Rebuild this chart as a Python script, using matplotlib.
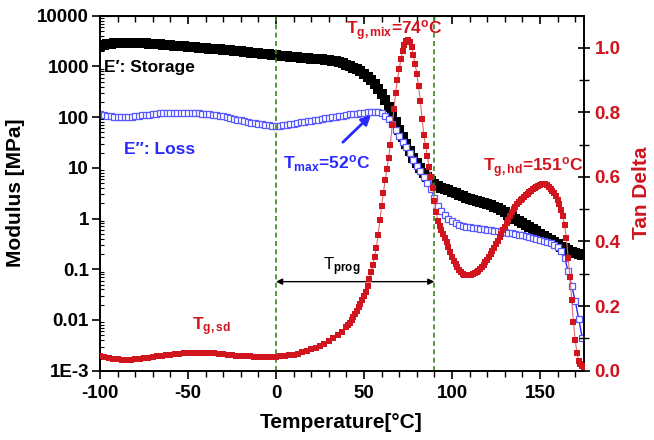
import numpy as np
import matplotlib
matplotlib.use("Agg")
import matplotlib.pyplot as plt
from matplotlib.ticker import FixedLocator, FixedFormatter, LogLocator, NullFormatter, MultipleLocator

plt.rcParams['font.family'] = ['Liberation Sans', 'DejaVu Sans']
plt.rcParams['font.weight'] = 'bold'
plt.rcParams['axes.unicode_minus'] = False
plt.rcParams['mathtext.fontset'] = 'custom'
plt.rcParams['mathtext.rm'] = 'Liberation Sans'
plt.rcParams['mathtext.bf'] = 'Liberation Sans:bold'
plt.rcParams['mathtext.it'] = 'Liberation Sans:italic'

# ---------------- data ----------------
# Storage modulus E' [MPa], every 2 degC from -100 to 174
temp_storage = np.arange(-100, 175, 2)
storage = [2512, 2630, 2754, 2818, 2884, 2884, 2951, 2951, 2951, 2951,
           2951, 2884, 2884, 2884, 2818, 2818, 2754, 2754, 2692, 2692,
           2630, 2570, 2570, 2512, 2512, 2455, 2399, 2399, 2344, 2344,
           2291, 2239, 2239, 2188, 2188, 2138, 2089, 2089, 2042, 1995,
           1995, 1950, 1905, 1862, 1862, 1820, 1778, 1738, 1738, 1698,
           1660, 1622, 1622, 1585, 1549, 1549, 1514, 1479, 1479, 1445,
           1413, 1413, 1380, 1380, 1349, 1318, 1288, 1259, 1202, 1148,
           1072, 1000, 933, 871, 794, 724, 631, 537, 447, 355,
           282, 214, 155, 112, 79, 56, 41, 29.5, 21.4, 15.8,
           12.3, 9.8, 7.9, 6.6, 5.6, 4.8, 4.3, 4.0, 3.8, 3.6,
           3.4, 3.16, 2.95, 2.75, 2.57, 2.45, 2.34, 2.24, 2.14, 2.04,
           1.91, 1.82, 1.70, 1.58, 1.45, 1.32, 1.20, 1.10, 1.00, 0.91,
           0.83, 0.76, 0.69, 0.62, 0.56, 0.50, 0.457, 0.41, 0.37, 0.34,
           0.31, 0.28, 0.257, 0.24, 0.224, 0.214, 0.204, 0.195]

# Loss modulus E'' [MPa], every 2 degC from -100 to 174
temp_loss = np.arange(-100, 175, 2)
loss = [117, 112, 107, 105, 102, 102, 100, 100, 102, 102,
        105, 107, 110, 110, 112, 115, 117, 120, 120, 123,
        123, 123, 123, 123, 123, 123, 123, 120, 120, 117,
        117, 115, 112, 110, 107, 105, 100, 98, 93, 89,
        87, 83, 81, 78, 76, 74, 72, 71, 69, 68,
        68, 68, 69, 71, 72, 74, 76, 79, 81, 83,
        85, 87, 89, 93, 95, 98, 100, 102, 105, 107,
        112, 115, 115, 117, 120, 123, 126, 129, 129, 126,
        120, 107, 91, 72, 56, 43, 33, 26, 19.5, 14.5,
        11.0, 8.5, 6.6, 5.1, 3.8, 2.6, 1.78, 1.38, 1.15, 1.00,
        0.89, 0.81, 0.76, 0.72, 0.69, 0.68, 0.66, 0.65, 0.63, 0.62,
        0.60, 0.59, 0.575, 0.56, 0.55, 0.54, 0.525, 0.51, 0.49, 0.48,
        0.47, 0.447, 0.437, 0.417, 0.40, 0.38, 0.363, 0.347, 0.324, 0.30,
        0.275, 0.23, 0.166, 0.093, 0.047, 0.024, 0.0105, 0.0045]

# Tan delta
temp_tan = list(np.arange(-100, 40.1, 2.5)) + list(np.arange(41, 176, 1))
tan_delta = [0.045, 0.041, 0.038, 0.036, 0.035, 0.034, 0.034, 0.034, 0.035, 0.036,
             0.038, 0.040, 0.042, 0.044, 0.046, 0.048, 0.050, 0.052, 0.053, 0.054,
             0.055, 0.056, 0.056, 0.056, 0.056, 0.055, 0.054, 0.053, 0.052, 0.050,
             0.049, 0.047, 0.046, 0.045, 0.044, 0.043, 0.043, 0.042, 0.042, 0.042,
             0.043, 0.044, 0.046, 0.048, 0.050, 0.053, 0.057, 0.061, 0.066, 0.071,
             0.077, 0.084, 0.091, 0.100, 0.110, 0.121, 0.134,
             # 41 .. 175 every 1 degC
             0.141, 0.149, 0.157, 0.166, 0.176, 0.186, 0.197, 0.208, 0.219, 0.231,
             0.245, 0.262, 0.283, 0.305, 0.328, 0.353, 0.380, 0.420, 0.465, 0.510,
             0.550, 0.590, 0.625, 0.660, 0.700, 0.760, 0.810, 0.860, 0.900, 0.935,
             0.965, 0.990, 1.008, 1.020, 1.024, 1.018, 1.003, 0.978, 0.950, 0.920,
             0.880, 0.835, 0.780, 0.730, 0.695, 0.665, 0.632, 0.600, 0.565, 0.525,
             0.490, 0.463, 0.447, 0.435, 0.423, 0.410, 0.397, 0.382, 0.367, 0.353,
             0.341, 0.330, 0.320, 0.312, 0.305, 0.300, 0.297, 0.295, 0.295, 0.296,
             0.297, 0.299, 0.302, 0.305, 0.309, 0.314, 0.320, 0.327, 0.335, 0.343,
             0.352, 0.361, 0.371, 0.381, 0.391, 0.402, 0.413, 0.424, 0.435, 0.446,
             0.457, 0.468, 0.479, 0.490, 0.500, 0.508, 0.515, 0.521, 0.527, 0.533,
             0.538, 0.543, 0.548, 0.553, 0.557, 0.561, 0.565, 0.569, 0.572, 0.575,
             0.577, 0.578, 0.577, 0.574, 0.570, 0.564, 0.557, 0.549, 0.540, 0.528,
             0.515, 0.498, 0.478, 0.450, 0.410, 0.350, 0.290, 0.220, 0.150, 0.095,
             0.055, 0.030, 0.020, 0.015, 0.010]

x_major = [-100, -50, 0, 50, 100, 150]
y_left_ticks = [1e-3, 1e-2, 1e-1, 1, 10, 100, 1000, 10000]
y_left_labels = ['1E-3', '0.01', '0.1', '1', '10', '100', '1000', '10000']
y_right_ticks = [0.0, 0.2, 0.4, 0.6, 0.8, 1.0]
y_right_labels = ['0.0', '0.2', '0.4', '0.6', '0.8', '1.0']
t_prog_range = [0, 90]

RED = '#d0151f'
BLUE = '#2a2aff'
GREEN = '#3a8a1a'

# ---------------- figure ----------------
fig = plt.figure(figsize=(6.54, 4.40), dpi=100)
ax = fig.add_axes([100 / 654, 1 - 370.7 / 440, 484 / 654, 355 / 440])
ax.set_yscale('log')
ax.set_xlim(-100, 175)
ax.set_ylim(1e-3, 1e4)

ax.plot(temp_storage, storage, 's', color='black', ms=6.6, mew=0, zorder=2)
ax.plot(temp_loss, loss, '-', color=BLUE, lw=1.0, zorder=3)
ax.plot(temp_loss, loss, 's', mfc='white', mec='#5858ff', ms=5.0, mew=0.9, zorder=3)

# T_prog arrow
ax.annotate('', xy=(t_prog_range[0], 0.057), xytext=(t_prog_range[1], 0.057),
            arrowprops=dict(arrowstyle='<|-|>', color='black', lw=1.0,
                            mutation_scale=9, shrinkA=0, shrinkB=0), zorder=4)
ax.text(26.5, 0.096, r'T$_{\mathrm{prog}}$', fontsize=12, fontweight='normal', color='black')

# Tmax arrow
ax.annotate('', xy=(54, 110), xytext=(38, 32),
            arrowprops=dict(arrowstyle='-|>', color=BLUE, lw=2.0,
                            mutation_scale=14, shrinkA=0, shrinkB=0), zorder=5)

ax.text(-97.5, 790, 'E\u2032: Storage', fontsize=12.5, fontweight='bold', color='black')
ax.text(-86.5, 19, 'E\u2033: Loss', fontsize=12.5, fontweight='bold', color=BLUE)
ax.text(4, 9.6, r'$\mathbf{T_{max}}$=52$^{\mathbf{o}}$C', fontsize=12.5,
        fontweight='bold', color=BLUE)
ax.text(40, 4300, r'$\mathbf{T_{g,mix}}$=74$^{\mathbf{o}}$C', fontsize=12.5,
        fontweight='bold', color=RED, zorder=6)
ax.text(117.5, 8.6, r'$\mathbf{T_{g,hd}}$=151$^{\mathbf{o}}$C', fontsize=12.5,
        fontweight='bold', color=RED)
ax.text(-47.5, 0.0062, r'$\mathbf{T_{g,sd}}$', fontsize=12.5, color=RED)

# left axis ticks
ax.yaxis.set_major_locator(FixedLocator(y_left_ticks))
ax.yaxis.set_major_formatter(FixedFormatter(y_left_labels))
ax.yaxis.set_minor_locator(LogLocator(base=10, subs=np.arange(2, 10), numticks=20))
ax.yaxis.set_minor_formatter(NullFormatter())
ax.tick_params(axis='y', which='major', direction='out', length=6, width=1.2,
               labelsize=13.5, pad=2)
ax.tick_params(axis='y', which='minor', direction='in', length=3, width=0.8)

ax.xaxis.set_major_locator(FixedLocator(x_major))
ax.xaxis.set_minor_locator(MultipleLocator(10))
ax.tick_params(axis='x', which='major', direction='out', length=6, width=1.2,
               labelsize=13.5, pad=4)
ax.tick_params(axis='x', which='minor', direction='out', length=4, width=1.0)

sec = ax.secondary_xaxis('top')
sec.xaxis.set_major_locator(FixedLocator(x_major))
sec.xaxis.set_minor_locator(MultipleLocator(10))
sec.tick_params(axis='x', which='major', direction='in', length=6, width=1.2, labeltop=False)
sec.tick_params(axis='x', which='minor', direction='in', length=4, width=1.0)

for s in ax.spines.values():
    s.set_linewidth(1.2)

ax.set_xlabel('Temperature[°C]', fontsize=15, fontweight='bold')
ax.xaxis.set_label_coords(0.498, -0.12)
ax.set_ylabel('Modulus [MPa]', fontsize=15, fontweight='bold')
ax.yaxis.set_label_coords(-0.155, 0.5)

# right axis: tan delta
ax2 = ax.twinx()
ax2.set_ylim(0, 1.099)
ax2.axvline(t_prog_range[0], color=GREEN, ls=(0, (3, 2)), lw=1.2, zorder=1)
ax2.axvline(t_prog_range[1], color=GREEN, ls=(0, (3, 2)), lw=1.2, zorder=1)
ax2.plot(temp_tan, tan_delta, '-', color='#e06a6a', lw=0.8, zorder=3)
ax2.plot(temp_tan, tan_delta, 's', color=RED, ms=4.8, mew=0, zorder=3)
ax2.yaxis.set_major_locator(FixedLocator(y_right_ticks))
ax2.yaxis.set_major_formatter(FixedFormatter(y_right_labels))
ax2.yaxis.set_minor_locator(MultipleLocator(0.1))
ax2.tick_params(axis='y', which='major', direction='inout', length=9, width=1.2,
                labelsize=13.5, labelcolor=RED, pad=3)
ax2.tick_params(axis='y', which='minor', direction='inout', length=7, width=1.0)
for s in ax2.spines.values():
    s.set_linewidth(1.2)
ax2.set_ylabel('Tan Delta', fontsize=15, fontweight='bold', color=RED)
ax2.yaxis.set_label_coords(1.1, 0.5)

fig.savefig('out.png', dpi=100)
